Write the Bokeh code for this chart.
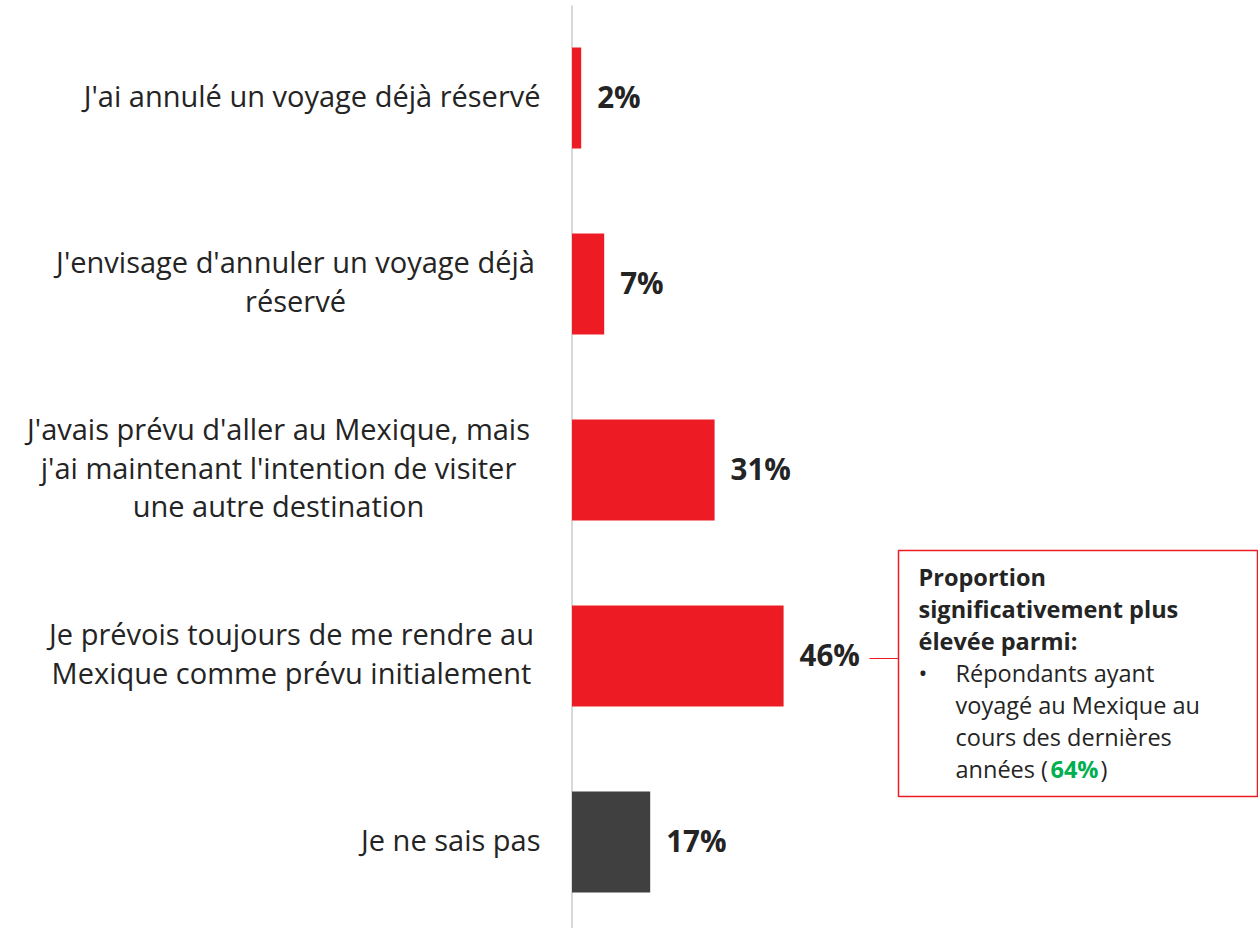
from bokeh.plotting import figure
from bokeh.models import ColumnDataSource, Range1d
from bokeh.core.properties import value
from bokeh.embed import file_html
from bokeh.resources import INLINE

# ---------------- data ----------------
categories = [
    "J'ai annulé un voyage déjà réservé",
    "J'envisage d'annuler un voyage déjà\nréservé",
    "J'avais prévu d'aller au Mexique, mais\nj'ai maintenant l'intention de visiter\nune autre destination",
    "Je prévois toujours de me rendre au\nMexique comme prévu initialement",
    "Je ne sais pas",
]
values = [2, 7, 31, 46, 17]
value_labels = ["2%", "7%", "31%", "46%", "17%"]
bar_colors = ["#ED1C24", "#ED1C24", "#ED1C24", "#ED1C24", "#404040"]

callout_title = ["Proportion", "significativement plus", "élevée parmi:"]
callout_items = ["Répondants ayant", "voyagé au Mexique au", "cours des dernières", "années ("]
callout_highlight = "64%"
callout_close = ")"
callout_row = 3  # category index the callout refers to

# ---------------- layout ----------------
W, H = 1258, 928
X0_REF = 571.5
PX_PER_PCT = 4.6
Y0_REF = 97.5
ROW = 186.0

def fx(px):
    return (px - X0_REF) / PX_PER_PCT

def fy(py):
    return (py - Y0_REF) / ROW

TEXT = "#242424"
FONT = "Open Sans"

p = figure(width=W, height=H, x_range=Range1d(fx(0), fx(W)), y_range=Range1d(fy(H), fy(0)),
           output_backend="svg", toolbar_location=None, min_border=0,
           outline_line_color=None, background_fill_color="white", border_fill_color="white")
p.xaxis.visible = False
p.yaxis.visible = False
p.grid.visible = False

ys = list(range(len(categories)))
src = ColumnDataSource(dict(y=ys, v=values, c=bar_colors, lbl=value_labels))

# baseline axis line
p.segment(x0=0, y0=fy(5), x1=0, y1=fy(930), line_color="#d9d9d9", line_width=2)

p.hbar(y="y", left=0, right="v", height=101 / ROW, fill_color="c", line_color=None, source=src)

p.text(x="v", y="y", text="lbl", source=src, x_offset=16, y_offset=-2, text_align="left",
       text_baseline="middle", text_font=value(FONT), text_font_style="bold",
       text_font_size="29.5px", text_color=TEXT)

# category labels
line_gap = 38.5 / ROW
label_right = 540
multi_centers = {1: 295, 2: 278, 3: 291}
lx, ly, lt, la = [], [], [], []
for i, cat in enumerate(categories):
    lines = cat.split("\n")
    n = len(lines)
    for k, ln in enumerate(lines):
        ly.append(i + (k - (n - 1) / 2) * line_gap - 3 / ROW)
        lt.append(ln)
        if n == 1:
            lx.append(fx(label_right))
            la.append("right")
        else:
            lx.append(fx(multi_centers[i]))
            la.append("center")
lsrc = ColumnDataSource(dict(x=lx, y=ly, t=lt, a=la))
p.text(x="x", y="y", text="t", text_align="a", source=lsrc, text_baseline="middle",
       text_font=value(FONT), text_font_size="29px", text_color=TEXT)

# callout box
bx0, bx1, by0, by1 = 898, 1257, 550, 796
p.quad(left=fx(bx0), right=fx(bx1), top=fy(by0), bottom=fy(by1),
       fill_color="white", line_color="#ED1C24", line_width=1.5)
conn_y = callout_row + (658 - (Y0_REF + ROW * callout_row)) / ROW
p.segment(x0=fx(869), y0=conn_y, x1=fx(898), y1=conn_y, line_color="#ED1C24", line_width=1)

cy0 = 576
cgap = 32
FS = "23.5px"
tx = [fx(918)] * len(callout_title)
ty = [fy(cy0 + k * cgap) for k in range(len(callout_title))]
p.text(x=tx, y=ty, text=callout_title, text_align="left", text_baseline="middle",
       text_font=value(FONT), text_font_style="bold", text_font_size=FS, text_color=TEXT)

n0 = len(callout_title)
ix = [fx(955)] * len(callout_items)
iy = [fy(cy0 + (n0 + k) * cgap) for k in range(len(callout_items))]
p.text(x=ix, y=iy, text=callout_items, text_align="left", text_baseline="middle",
       text_font=value(FONT), text_font_size=FS, text_color=TEXT)
p.text(x=[fx(918)], y=[iy[0]], text=["•"], text_align="left", text_baseline="middle",
       text_font=value(FONT), text_font_size=FS, text_color=TEXT)
p.text(x=[fx(1050)], y=[iy[-1]], text=[callout_highlight], text_align="left", text_baseline="middle",
       text_font=value(FONT), text_font_style="bold", text_font_size=FS, text_color="#00B050")
p.text(x=[fx(1100)], y=[iy[-1]], text=[callout_close], text_align="left", text_baseline="middle",
       text_font=value(FONT), text_font_size=FS, text_color=TEXT)

open("out.html", "w").write(file_html(p, INLINE))
